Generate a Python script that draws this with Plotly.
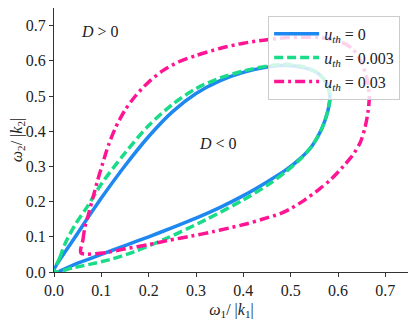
import plotly.graph_objects as go

# u_th = 0 (closed loop through the origin)
x_u0 = [0.0, 0.05, 0.1, 0.15, 0.2, 0.25, 0.3, 0.35, 0.4, 0.45, 0.49, 0.53, 0.56,
        0.578, 0.583, 0.578, 0.565, 0.545, 0.52, 0.49, 0.45, 0.4, 0.35, 0.3,
        0.25, 0.2, 0.15, 0.1, 0.05, 0.0]
y_u0 = [0.0, 0.11, 0.21, 0.302, 0.385, 0.455, 0.507, 0.543, 0.567, 0.582, 0.587, 0.58, 0.562,
        0.53, 0.497, 0.455, 0.405, 0.358, 0.322, 0.29, 0.256, 0.217, 0.183, 0.153,
        0.126, 0.1, 0.075, 0.05, 0.025, 0.0]

# u_th = 0.003
x_u1 = [0.0, 0.012, 0.025, 0.045, 0.07, 0.1, 0.15, 0.2, 0.25, 0.3, 0.35, 0.4, 0.45,
        0.49, 0.53, 0.56, 0.578, 0.583, 0.578, 0.565, 0.545, 0.52, 0.49, 0.457, 0.4,
        0.32, 0.24, 0.17, 0.12, 0.08, 0.04, 0.0]
y_u1 = [0.0, 0.04, 0.085, 0.135, 0.185, 0.25, 0.338, 0.416, 0.476, 0.521, 0.551, 0.571, 0.585,
        0.59, 0.582, 0.563, 0.53, 0.497, 0.455, 0.405, 0.358, 0.32, 0.285, 0.252, 0.205,
        0.148, 0.097, 0.058, 0.036, 0.023, 0.012, 0.0]

# u_th = 0.03 (loop with a kink near the lower-left)
x_u2 = [0.057, 0.061, 0.065, 0.072, 0.082, 0.092, 0.102, 0.115, 0.13, 0.15, 0.172,
        0.2, 0.23, 0.265, 0.3, 0.35, 0.4, 0.45, 0.5, 0.56, 0.604, 0.63, 0.648, 0.661,
        0.666, 0.664, 0.657, 0.647, 0.63, 0.611, 0.585, 0.56, 0.53, 0.5, 0.478, 0.44,
        0.408, 0.37, 0.334, 0.29, 0.242, 0.2, 0.151, 0.109, 0.057]
y_u2 = [0.054, 0.09, 0.125, 0.16, 0.21, 0.26, 0.305, 0.36, 0.41, 0.46, 0.5,
        0.54, 0.572, 0.598, 0.615, 0.635, 0.65, 0.66, 0.666, 0.666, 0.655, 0.635, 0.6, 0.55,
        0.5, 0.46, 0.41, 0.368, 0.33, 0.3, 0.263, 0.235, 0.205, 0.18, 0.166, 0.15,
        0.137, 0.125, 0.114, 0.102, 0.09, 0.078, 0.066, 0.055, 0.054]

series = [
    ("<i>u<sub>th</sub></i> = 0", x_u0, y_u0, "#1e88f0", "solid"),
    ("<i>u<sub>th</sub></i> = 0.003", x_u1, y_u1, "#19db88", "9px,4px"),
    ("<i>u<sub>th</sub></i> = 0.03", x_u2, y_u2, "#ff1493", "10px,4px,3px,4px"),
]

serif = "Liberation Serif"

fig = go.Figure()
for name, xs, ys, color, dash in series:
    fig.add_trace(go.Scatter(
        x=xs, y=ys, mode="lines", name=name,
        line=dict(color=color, width=3.5, dash=dash, shape="spline", smoothing=0.8),
    ))

fig.add_annotation(x=0.098, y=0.684, text="<i>D</i> > 0", showarrow=False,
                   font=dict(family=serif, size=16, color="#222"))
fig.add_annotation(x=0.347, y=0.366, text="<i>D</i> < 0", showarrow=False,
                   font=dict(family=serif, size=16, color="#222"))

axis_style = dict(
    range=[0, 0.75], dtick=0.1, tickformat=".1f",
    showgrid=False, zeroline=False, automargin=False,
    showline=True, linecolor="#333", linewidth=1, mirror=True,
    ticks="outside", ticklen=4, tickcolor="#333",
    tickfont=dict(family=serif, size=16, color="#222"),
)

fig.update_xaxes(**axis_style, title=dict(
    text="<i>ω</i><sub>1</sub>/ |<i>k</i><sub>1</sub>|",
    font=dict(family=serif, size=16, color="#222"), standoff=6))
fig.update_yaxes(**axis_style, title=dict(
    text="<i>ω</i><sub>2</sub>/ |<i>k</i><sub>2</sub>|",
    font=dict(family=serif, size=16, color="#222"), standoff=6))

# the page adds an 8px body margin, so the figure is shrunk to compensate
fig.update_layout(
    width=408, height=312,
    margin=dict(l=46, r=7, t=0, b=48),
    plot_bgcolor="white", paper_bgcolor="white",
    font=dict(family=serif, size=16, color="#222"),
    legend=dict(
        x=0.975, y=0.97, xanchor="right", yanchor="top",
        bgcolor="rgba(255,255,255,0.8)", bordercolor="#cccccc", borderwidth=1,
        font=dict(family=serif, size=16, color="#222"),
        tracegroupgap=0, itemwidth=45,
    ),
)

fig.write_html("out.html")
